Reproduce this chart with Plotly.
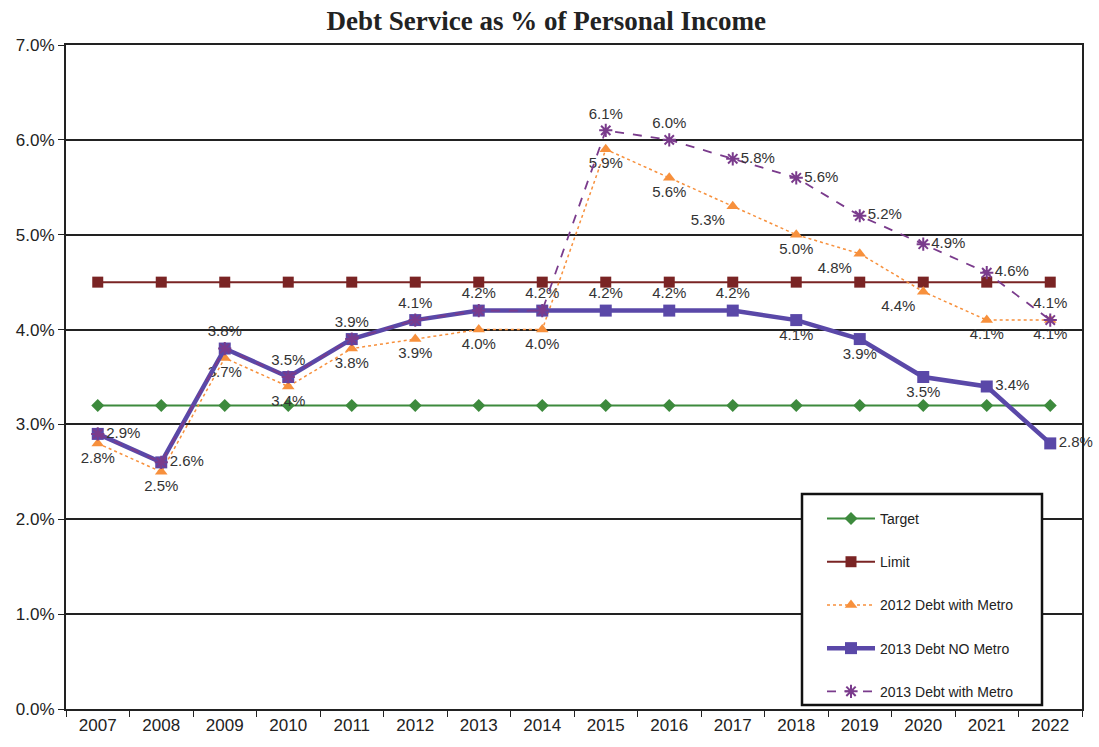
import plotly.graph_objects as go

years = [str(y) for y in range(2007, 2023)]
target = [3.2] * 16
limit = [4.5] * 16
debt2012_metro = [2.8, 2.5, 3.7, 3.4, 3.8, 3.9, 4.0, 4.0, 5.9, 5.6, 5.3, 5.0, 4.8, 4.4, 4.1, 4.1]
debt2013_no_metro = [2.9, 2.6, 3.8, 3.5, 3.9, 4.1, 4.2, 4.2, 4.2, 4.2, 4.2, 4.1, 3.9, 3.5, 3.4, 2.8]
debt2013_metro = [2.9, 2.6, 3.8, 3.5, 3.9, 4.1, 4.2, 4.2, 6.1, 6.0, 5.8, 5.6, 5.2, 4.9, 4.6, 4.1]
y_ticks = [0, 1, 2, 3, 4, 5, 6, 7]
y_tick_labels = ["0.0%", "1.0%", "2.0%", "3.0%", "4.0%", "5.0%", "6.0%", "7.0%"]

def labels(vals, show=None):
    return [("%.1f%%" % v) if (show is None or show[i]) else "" for i, v in enumerate(vals)]

pos_2012 = ["bottom center"] * 16
pos_2012[10] = "bottom left"
pos_2012[12] = "bottom left"
pos_2012[13] = "bottom left"

pos_no = ["top center"] * 16
pos_no[0] = "middle right"
pos_no[1] = "middle right"
pos_no[11] = "bottom center"
pos_no[12] = "bottom center"
pos_no[13] = "bottom center"
pos_no[14] = "middle right"
pos_no[15] = "middle right"

pos_m = ["middle right"] * 16
pos_m[8] = "top center"
pos_m[9] = "top center"
pos_m[15] = "top center"
show_m = [i >= 8 for i in range(16)]

lab_font = dict(family="Arial", size=15, color="#333333")

fig = go.Figure()
fig.add_trace(go.Scatter(x=years, y=target, name="Target", mode="lines+markers", legendgroup="a",
                         line=dict(color="#3d8a3d", width=2),
                         marker=dict(symbol="diamond", size=10, color="#3d8a3d")))
fig.add_trace(go.Scatter(x=years, y=limit, name="Limit", mode="lines+markers", legendgroup="b",
                         line=dict(color="#7a2424", width=2),
                         marker=dict(symbol="square", size=11, color="#7a2424")))
fig.add_trace(go.Scatter(x=years, y=debt2012_metro, name="2012 Debt with Metro", mode="lines+markers+text",
                         legendgroup="c", cliponaxis=False,
                         line=dict(color="#f7903c", width=1.5, dash="dot"),
                         marker=dict(symbol="triangle-up", size=11, color="#f7903c"),
                         text=labels(debt2012_metro), textposition=pos_2012, textfont=lab_font))
fig.add_trace(go.Scatter(x=years, y=debt2013_no_metro, name="2013 Debt NO Metro", mode="lines+markers+text",
                         legendgroup="d", cliponaxis=False,
                         line=dict(color="#5a48a8", width=4.5),
                         marker=dict(symbol="square", size=12, color="#5a48a8"),
                         text=labels(debt2013_no_metro), textposition=pos_no, textfont=lab_font))
fig.add_trace(go.Scatter(x=years, y=debt2013_metro, name="2013 Debt with Metro", mode="lines+markers+text",
                         legendgroup="e", cliponaxis=False,
                         line=dict(color="#7a3b8c", width=1.8, dash="dash"),
                         marker=dict(symbol="asterisk-open", size=11, color="#7a3b8c", line=dict(width=2, color="#7a3b8c")),
                         text=labels(debt2013_metro, show_m), textposition=pos_m, textfont=lab_font))

# legend frame (paper coords: plot area x 66..1082, y 45..712)
fig.add_shape(type="rect", xref="paper", yref="paper",
              x0=(802 - 66) / 1016, x1=(1042 - 66) / 1016,
              y0=(712 - 708) / 667, y1=(712 - 496) / 667,
              line=dict(color="#111111", width=2.5), fillcolor="white", layer="above")

fig.update_layout(
    width=1099, height=747,
    margin=dict(l=66, r=17, t=45, b=35),
    paper_bgcolor="white", plot_bgcolor="white",
    title=dict(text="<b>Debt Service as % of Personal Income</b>", x=0.497, xanchor="center",
               y=0.972, yanchor="middle",
               font=dict(family="Liberation Serif", size=27, color="#222222")),
    font=dict(family="Arial", color="#222222"),
    showlegend=True,
    legend=dict(x=(822 - 66) / 1016, y=(712 - 505) / 667, xanchor="left", yanchor="top",
                bgcolor="rgba(0,0,0,0)", borderwidth=0,
                font=dict(family="Arial", size=14, color="#222222"),
                tracegroupgap=22, itemwidth=48),
)
fig.update_xaxes(type="category", range=[-0.5, 15.5], showgrid=False, showline=True, linecolor="#222222",
                 linewidth=2, mirror=True, ticks="outside", tickson="boundaries", ticklen=6,
                 tickcolor="#222222", tickfont=dict(family="Arial", size=17, color="#222222"))
fig.update_yaxes(range=[0, 7], tickvals=y_ticks, ticktext=y_tick_labels, showgrid=True,
                 gridcolor="#222222", gridwidth=1.5, showline=True, linecolor="#222222", linewidth=2,
                 mirror=True, ticks="outside", ticklen=6, tickcolor="#222222", zeroline=False,
                 tickfont=dict(family="Arial", size=17, color="#222222"))

fig.write_html("out.html")
